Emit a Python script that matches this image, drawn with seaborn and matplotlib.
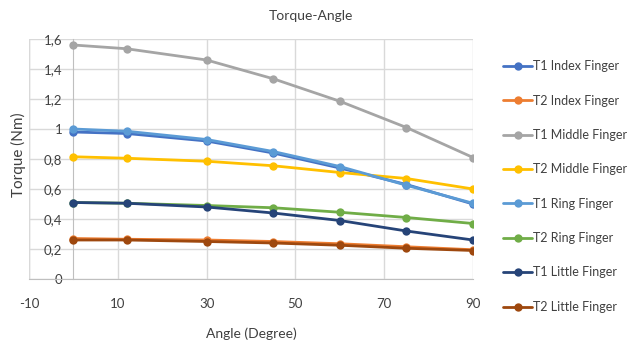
import matplotlib
matplotlib.use("Agg")
import matplotlib.pyplot as plt
import seaborn as sns
import pandas as pd
from matplotlib.ticker import FuncFormatter, FixedLocator

angles = [0, 12, 30, 45, 60, 75, 90]
series_names = ["T1 Index Finger", "T2 Index Finger", "T1 Middle Finger", "T2 Middle Finger",
                "T1 Ring Finger", "T2 Ring Finger", "T1 Little Finger", "T2 Little Finger"]
t1_index = [0.98, 0.97, 0.92, 0.84, 0.74, 0.63, 0.50]
t2_index = [0.27, 0.265, 0.26, 0.25, 0.235, 0.215, 0.195]
t1_middle = [1.56, 1.535, 1.46, 1.335, 1.185, 1.01, 0.81]
t2_middle = [0.815, 0.805, 0.785, 0.755, 0.71, 0.67, 0.60]
t1_ring = [1.00, 0.985, 0.93, 0.85, 0.75, 0.625, 0.505]
t2_ring = [0.51, 0.505, 0.49, 0.475, 0.445, 0.41, 0.37]
t1_little = [0.51, 0.505, 0.48, 0.44, 0.39, 0.32, 0.26]
t2_little = [0.26, 0.26, 0.25, 0.24, 0.225, 0.205, 0.19]
colors = ["#4472C4", "#ED7D31", "#A5A5A5", "#FFC000", "#5B9BD5", "#70AD47", "#264478", "#9E480E"]
y_ticks = [0, 0.2, 0.4, 0.6, 0.8, 1.0, 1.2, 1.4, 1.6]
x_ticks = [-10, 10, 30, 50, 70, 90]

values = [t1_index, t2_index, t1_middle, t2_middle, t1_ring, t2_ring, t1_little, t2_little]
rows = []
for name, vals in zip(series_names, values):
    for a, v in zip(angles, vals):
        rows.append({"Angle": a, "Torque": v, "Series": name})
df = pd.DataFrame(rows)

sns.set_style("white")
plt.rcParams['font.family'] = ['Lato', 'DejaVu Sans']
plt.rcParams['axes.unicode_minus'] = False

fig = plt.figure(figsize=(6.38, 3.47), dpi=100)
ax = fig.add_axes([29/638, 1 - 279/347, (473-29)/638, (279-39)/347])

sns.lineplot(data=df, x="Angle", y="Torque", hue="Series", hue_order=series_names,
             palette=colors, marker="o", markersize=6, markeredgewidth=0,
             linewidth=2, ax=ax, legend=True, zorder=3)

ax.set_xlim(-10, 90)
ax.set_ylim(0, 1.6)
ax.xaxis.set_major_locator(FixedLocator(x_ticks))
ax.yaxis.set_major_locator(FixedLocator(y_ticks))
def yfmt(v, pos):
    s = ("%.1f" % v)
    if s.endswith(".0"):
        s = s[:-2]
    return s.replace(".", ",")
ax.yaxis.set_major_formatter(FuncFormatter(yfmt))
ax.grid(True, color="#D9D9D9", linewidth=1)
ax.set_axisbelow(True)
for s in ["top", "right"]:
    ax.spines[s].set_visible(False)
ax.spines["left"].set_position(("data", 0))
ax.spines["left"].set_color("#BFBFBF")
ax.spines["bottom"].set_color("#BFBFBF")
ax.tick_params(axis="both", length=0, labelsize=9.5, colors="#404040")
ax.tick_params(axis="y", pad=8)
ax.tick_params(axis="x", pad=14)
ax.axvline(-10, color="#D9D9D9", linewidth=1, zorder=0)
ax.set_xlabel("Angle (Degree)", fontsize=10, color="#404040", labelpad=12)
ax.set_ylabel("")
fig.text(18/638, 1 - 155/347, "Torque (Nm)", rotation=90, ha="center", va="center",
         fontsize=11, color="#404040")
fig.text(311/638, 1 - 16/347, "Torque-Angle", ha="center", va="center", fontsize=10, color="#404040")

handles, labels = ax.get_legend_handles_labels()
ax.legend(handles, labels, loc="upper left", bbox_to_anchor=(492/638, 1 - 49/347),
          bbox_transform=fig.transFigure, frameon=False, fontsize=9,
          labelspacing=1.79, handlelength=2.3, handletextpad=0.1, labelcolor="#404040")

fig.savefig("out.png", dpi=100)
